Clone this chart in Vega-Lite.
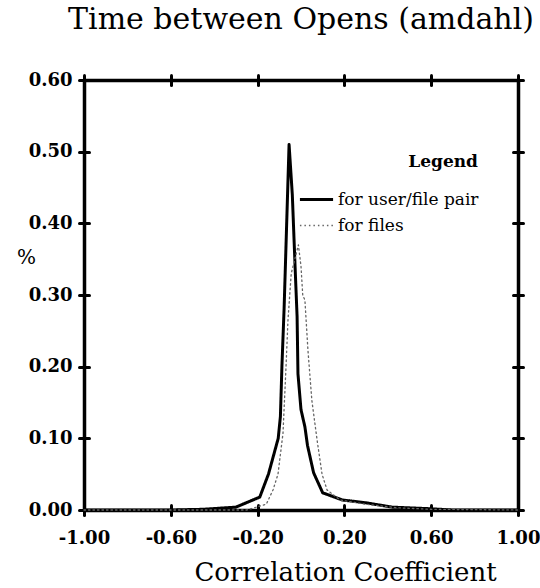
{
  "$schema": "https://vega.github.io/schema/vega-lite/v6.json",
  "width": 434,
  "height": 430,
  "autosize": {"type": "none"},
  "padding": {"left": 84, "top": 80, "right": 22, "bottom": 78},
  "background": "white",
  "title": {
    "text": "Time between Opens (amdahl)",
    "font": "DejaVu Serif",
    "fontSize": 30,
    "fontWeight": "normal",
    "color": "black",
    "anchor": "middle",
    "offset": 36
  },
  "config": {
    "view": {"stroke": null},
    "axis": {
      "grid": false,
      "domainColor": "black",
      "domainWidth": 3.5,
      "tickColor": "black",
      "tickWidth": 3,
      "tickCap": "round",
      "labelFont": "DejaVu Serif",
      "labelFontWeight": "bold",
      "labelFontSize": 17,
      "labelColor": "black",
      "labelFlush": false,
      "labelOverlap": false,
      "titleFont": "DejaVu Serif",
      "titleFontWeight": "normal",
      "titleColor": "black"
    }
  },
  "data": {
    "values": [
      {"x": -1.0, "pct": 0.0, "series": "for user/file pair"},
      {"x": -0.6, "pct": 0.0, "series": "for user/file pair"},
      {"x": -0.45, "pct": 0.001, "series": "for user/file pair"},
      {"x": -0.3, "pct": 0.004, "series": "for user/file pair"},
      {"x": -0.19, "pct": 0.018, "series": "for user/file pair"},
      {"x": -0.15, "pct": 0.05, "series": "for user/file pair"},
      {"x": -0.105, "pct": 0.1, "series": "for user/file pair"},
      {"x": -0.095, "pct": 0.13, "series": "for user/file pair"},
      {"x": -0.088, "pct": 0.2, "series": "for user/file pair"},
      {"x": -0.078, "pct": 0.28, "series": "for user/file pair"},
      {"x": -0.068, "pct": 0.38, "series": "for user/file pair"},
      {"x": -0.055, "pct": 0.51, "series": "for user/file pair"},
      {"x": -0.04, "pct": 0.44, "series": "for user/file pair"},
      {"x": -0.026, "pct": 0.33, "series": "for user/file pair"},
      {"x": -0.018, "pct": 0.27, "series": "for user/file pair"},
      {"x": -0.014, "pct": 0.19, "series": "for user/file pair"},
      {"x": 0.0, "pct": 0.14, "series": "for user/file pair"},
      {"x": 0.018, "pct": 0.116, "series": "for user/file pair"},
      {"x": 0.03, "pct": 0.09, "series": "for user/file pair"},
      {"x": 0.058, "pct": 0.052, "series": "for user/file pair"},
      {"x": 0.1, "pct": 0.024, "series": "for user/file pair"},
      {"x": 0.19, "pct": 0.014, "series": "for user/file pair"},
      {"x": 0.3, "pct": 0.01, "series": "for user/file pair"},
      {"x": 0.42, "pct": 0.004, "series": "for user/file pair"},
      {"x": 0.58, "pct": 0.002, "series": "for user/file pair"},
      {"x": 0.7, "pct": 0.0, "series": "for user/file pair"},
      {"x": 1.0, "pct": 0.0, "series": "for user/file pair"},
      {"x": -1.0, "pct": 0.0, "series": "for files"},
      {"x": -0.25, "pct": 0.0, "series": "for files"},
      {"x": -0.16, "pct": 0.008, "series": "for files"},
      {"x": -0.129, "pct": 0.028, "series": "for files"},
      {"x": -0.106, "pct": 0.05, "series": "for files"},
      {"x": -0.083, "pct": 0.107, "series": "for files"},
      {"x": -0.069, "pct": 0.2, "series": "for files"},
      {"x": -0.06, "pct": 0.265, "series": "for files"},
      {"x": -0.045, "pct": 0.33, "series": "for files"},
      {"x": -0.012, "pct": 0.37, "series": "for files"},
      {"x": 0.0, "pct": 0.34, "series": "for files"},
      {"x": 0.008, "pct": 0.3, "series": "for files"},
      {"x": 0.018, "pct": 0.293, "series": "for files"},
      {"x": 0.032, "pct": 0.223, "series": "for files"},
      {"x": 0.05, "pct": 0.153, "series": "for files"},
      {"x": 0.074, "pct": 0.098, "series": "for files"},
      {"x": 0.097, "pct": 0.05, "series": "for files"},
      {"x": 0.12, "pct": 0.028, "series": "for files"},
      {"x": 0.18, "pct": 0.014, "series": "for files"},
      {"x": 0.3, "pct": 0.008, "series": "for files"},
      {"x": 0.45, "pct": 0.003, "series": "for files"},
      {"x": 0.6, "pct": 0.001, "series": "for files"},
      {"x": 1.0, "pct": 0.0, "series": "for files"}
    ]
  },
  "layer": [
    {
      "mark": {"type": "line", "strokeCap": "round", "strokeJoin": "round"},
      "encoding": {
        "x": {
          "field": "x", "type": "quantitative",
          "scale": {"domain": [-1, 1], "nice": false, "zero": false},
          "axis": {
            "orient": "bottom",
            "values": [-1, -0.6, -0.2, 0.2, 0.6, 1],
            "labelExpr": "replace(format(datum.value, '.2f'), '\u2212', '-')",
            "labelFontSize": 18,
            "tickSize": 5,
            "labelPadding": 14,
            "title": "Correlation Coefficient",
            "titleFontSize": 26,
            "titleX": 261,
            "titleY": 70,
            "titleAlign": "center",
            "titleBaseline": "alphabetic"
          }
        },
        "y": {
          "field": "pct", "type": "quantitative",
          "scale": {"domain": [0, 0.6], "nice": false},
          "axis": {
            "orient": "left",
            "values": [0, 0.1, 0.2, 0.3, 0.4, 0.5, 0.6],
            "format": ".2f",
            "labelFontSize": 18,
            "tickSize": 5,
            "labelPadding": 7,
            "title": "%",
            "titleAngle": 0,
            "titleFontSize": 20,
            "titleX": -58,
            "titleY": 177,
            "titleAlign": "center",
            "titleBaseline": "middle"
          }
        },
        "color": {
          "field": "series", "type": "nominal",
          "scale": {"domain": ["for user/file pair", "for files"], "range": ["black", "#666666"]},
          "legend": {
            "title": "Legend",
            "orient": "none",
            "legendX": 214,
            "legendY": 74,
            "titleFont": "DejaVu Serif",
            "titleFontSize": 17,
            "titleFontWeight": "bold",
            "titleColor": "black",
            "titleAnchor": "end",
            "titleAlign": "right",
            "titlePadding": 10,
            "labelFont": "DejaVu Serif",
            "labelFontSize": 17,
            "labelColor": "black",
            "labelOffset": 3,
            "symbolType": "stroke",
            "symbolSize": 1100,
            "rowPadding": -3
          }
        },
        "strokeDash": {
          "field": "series", "type": "nominal",
          "scale": {"domain": ["for user/file pair", "for files"], "range": [[1, 0], [1.5, 3]]},
          "legend": {"title": "Legend", "orient": "none", "legendX": 214, "legendY": 74}
        },
        "strokeWidth": {
          "field": "series", "type": "nominal",
          "scale": {"domain": ["for user/file pair", "for files"], "range": [3, 1.3]},
          "legend": {"title": "Legend", "orient": "none", "legendX": 214, "legendY": 74}
        }
      }
    },
    {
      "mark": {"type": "line", "opacity": 0},
      "encoding": {
        "x": {"field": "x", "type": "quantitative",
          "axis": {"orient": "bottom", "values": [-1, -0.6, -0.2, 0.2, 0.6, 1], "tickSize": -5, "labels": false, "domain": false, "title": null}},
        "y": {"field": "pct", "type": "quantitative",
          "axis": {"orient": "left", "values": [0, 0.1, 0.2, 0.3, 0.4, 0.5, 0.6], "tickSize": -5, "labels": false, "domain": false, "title": null}},
        "detail": {"field": "series"}
      }
    },
    {
      "mark": {"type": "line", "opacity": 0},
      "encoding": {
        "x": {"field": "x", "type": "quantitative",
          "axis": {"orient": "top", "values": [-1, -0.6, -0.2, 0.2, 0.6, 1], "tickSize": 5, "labels": false, "domain": true, "title": null}},
        "y": {"field": "pct", "type": "quantitative",
          "axis": {"orient": "right", "values": [0, 0.1, 0.2, 0.3, 0.4, 0.5, 0.6], "tickSize": 5, "labels": false, "domain": true, "title": null}},
        "detail": {"field": "series"}
      }
    },
    {
      "mark": {"type": "line", "opacity": 0},
      "encoding": {
        "x": {"field": "x", "type": "quantitative",
          "axis": {"orient": "top", "values": [-1, -0.6, -0.2, 0.2, 0.6, 1], "tickSize": -5, "labels": false, "domain": false, "title": null}},
        "y": {"field": "pct", "type": "quantitative",
          "axis": {"orient": "right", "values": [0, 0.1, 0.2, 0.3, 0.4, 0.5, 0.6], "tickSize": -5, "labels": false, "domain": false, "title": null}},
        "detail": {"field": "series"}
      }
    }
  ],
  "resolve": {"axis": {"x": "independent", "y": "independent"}}
}
